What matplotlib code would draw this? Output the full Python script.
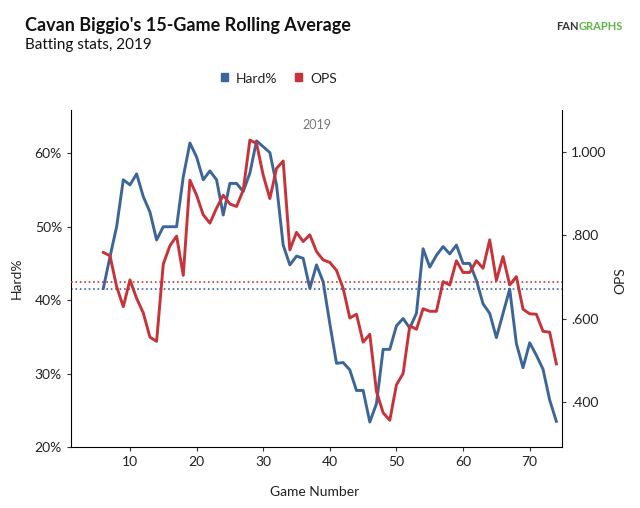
import numpy as np
import matplotlib.pyplot as plt

plt.rcParams['font.family'] = ['Lato', 'DejaVu Sans']

games = list(range(6, 75))

hard_pct = [41.6, 45.9, 50.0, 56.4, 55.7, 57.2, 54.1, 52.0, 48.2, 50.0,
            50.0, 50.0, 56.8, 61.4, 59.5, 56.4, 57.6, 56.4, 51.6, 55.9,
            55.9, 54.8, 57.3, 61.7, 60.9, 60.1, 55.7, 47.5, 44.8, 46.0,
            45.7, 41.6, 44.8, 42.5, 36.8, 31.4, 31.5, 30.5, 27.7, 27.7,
            23.4, 25.9, 33.3, 33.3, 36.5, 37.5, 36.2, 38.2, 47.0, 44.5,
            46.1, 47.3, 46.3, 47.5, 45.0, 45.0, 42.7, 39.5, 38.2, 34.9,
            38.2, 41.5, 34.1, 30.8, 34.2, 32.5, 30.6, 26.4, 23.5]

ops = [0.759, 0.751, 0.677, 0.629, 0.693, 0.649, 0.614, 0.556, 0.546, 0.731,
       0.775, 0.798, 0.704, 0.932, 0.896, 0.849, 0.829, 0.865, 0.896, 0.875,
       0.869, 0.908, 1.028, 1.020, 0.944, 0.888, 0.960, 0.978, 0.765, 0.807,
       0.785, 0.801, 0.761, 0.741, 0.735, 0.716, 0.673, 0.602, 0.611, 0.544,
       0.563, 0.426, 0.375, 0.357, 0.442, 0.469, 0.583, 0.575, 0.624, 0.618,
       0.618, 0.689, 0.681, 0.739, 0.711, 0.711, 0.739, 0.721, 0.789, 0.692,
       0.749, 0.681, 0.701, 0.623, 0.612, 0.611, 0.570, 0.568, 0.492]

hard_avg = 41.5
ops_avg = 0.687

blue = '#3c6699'
red = '#c8333a'
W, H = 640, 508

fig = plt.figure(figsize=(6.4, 5.08), dpi=100)
ax = fig.add_axes([71 / W, 1 - 447 / H, (562 - 71) / W, (447 - 110) / H])
ax2 = ax.twinx()

ax.plot(games, hard_pct, color=blue, lw=2.1)
ax.axhline(hard_avg, color=blue, ls=':', lw=1.2)
ax2.plot(games, ops, color=red, lw=2.1)
ax2.axhline(ops_avg, color=red, ls=':', lw=1.2)

ax.set_xlim(1.15, 74.85)
ax.set_ylim(20, 65.9)
ax2.set_ylim(0.293, 1.1)

ax.set_xticks([10, 20, 30, 40, 50, 60, 70])
ax.set_yticks([20, 30, 40, 50, 60])
ax.set_yticklabels([f'{v}%' for v in [20, 30, 40, 50, 60]])
ax2.set_yticks([0.4, 0.6, 0.8, 1.0])
ax2.set_yticklabels(['.400', '.600', '.800', '1.000'])

for a in (ax, ax2):
    a.tick_params(labelsize=10, length=3, color='#333333', labelcolor='#222222')
    a.spines['top'].set_visible(False)
ax.spines['right'].set_visible(False)
ax2.spines['left'].set_visible(False)
ax2.spines['bottom'].set_visible(False)

ax.text(0.5, 0.955, '2019', transform=ax.transAxes, ha='center', va='center',
        fontsize=9, color='#777777')

# axis titles
fig.text(315 / W, 1 - 492 / H, 'Game Number', fontsize=10, color='#222222',
         ha='center', va='center')
fig.text(17 / W, 1 - 278 / H, 'Hard%', fontsize=10, color='#222222',
         ha='center', va='center', rotation=90)
fig.text(620 / W, 1 - 281 / H, 'OPS', fontsize=10, color='#222222',
         ha='center', va='center', rotation=90)

fig.text(25 / W, 1 - 25 / H, "Cavan Biggio's 15-Game Rolling Average", fontsize=13,
         fontweight='bold', color='#111111', va='center')
fig.text(25 / W, 1 - 45 / H, 'Batting stats, 2019', fontsize=11, color='#111111',
         va='center')

# legend
fig.patches.append(plt.Rectangle((221 / W, 1 - 81 / H), 7 / W, 8 / H,
                                 transform=fig.transFigure, color=blue))
fig.text(236 / W, 1 - 79 / H, 'Hard%', fontsize=10, va='center', color='#222222')
fig.patches.append(plt.Rectangle((295 / W, 1 - 81 / H), 7 / W, 8 / H,
                                 transform=fig.transFigure, color=red))
fig.text(310 / W, 1 - 79 / H, 'OPS', fontsize=10, va='center', color='#222222')

# logo
fig.text(579 / W, 1 - 27 / H, 'FAN', fontsize=8, fontweight='bold',
         color='#333333', va='center', ha='right')
fig.text(579 / W, 1 - 27 / H, 'GRAPHS', fontsize=8, fontweight='bold',
         color='#5fb446', va='center', ha='left')

fig.savefig('out.png', dpi=100)
